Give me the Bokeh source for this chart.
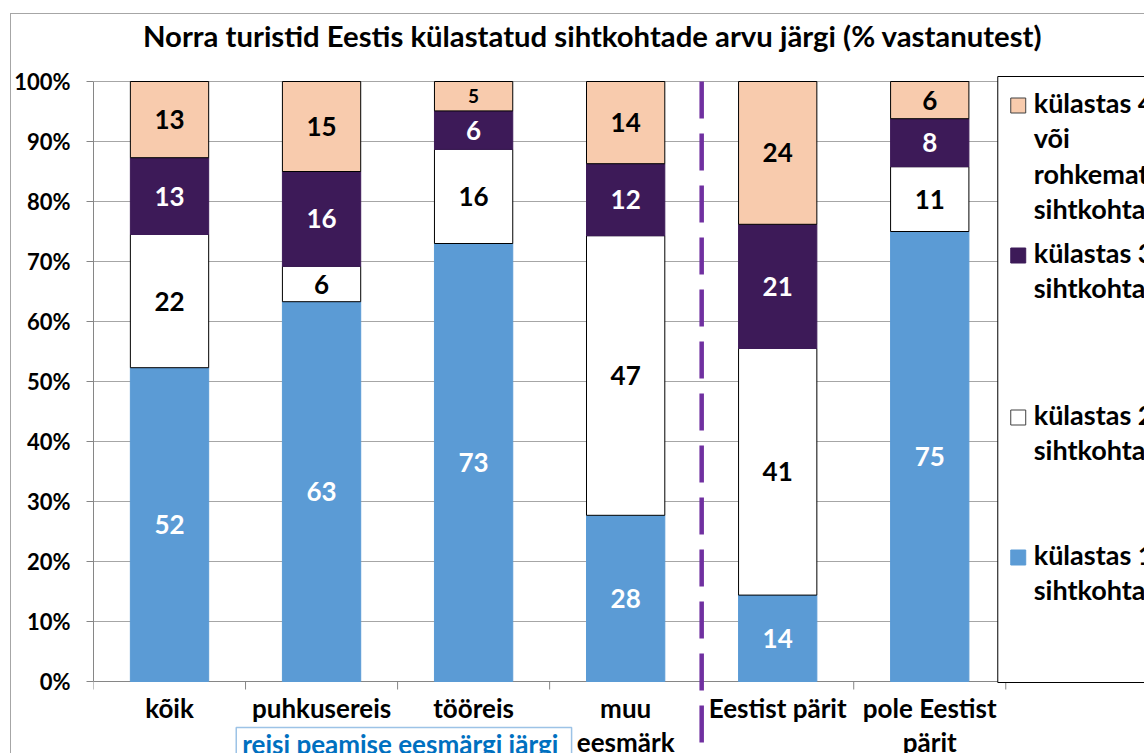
from bokeh.plotting import figure
from bokeh.models import Range1d, FixedTicker, ColumnDataSource, CustomJSTickFormatter
from bokeh.embed import file_html
from bokeh.resources import INLINE
from bokeh.core.properties import value, field

title_text = "Norra turistid Eestis külastatud sihtkohtade arvu järgi (% vastanutest)"
categories = ["kõik", "puhkusereis", "tööreis", "muu\neesmärk", "Eestist pärit", "pole Eestist\npärit"]
series_names = ["külastas 1\nsihtkohta", "külastas 2\nsihtkohta", "külastas 3\nsihtkohta",
                "külastas 4\nvõi\nrohkemat\nsihtkohta"]
visited_1 = [52.3, 63.3, 73.0, 27.7, 14.4, 75.0]
visited_2 = [22.2, 5.9, 15.7, 46.6, 41.1, 10.8]
visited_3 = [12.8, 15.8, 6.4, 12.0, 20.7, 8.0]
visited_4 = [12.7, 15.0, 4.9, 13.7, 23.8, 6.2]
y_ticks = [0, 10, 20, 30, 40, 50, 60, 70, 80, 90, 100]
group_note = "reisi peamise eesmärgi järgi"
divider_after = 4  # divider between the purpose groups and the origin groups

fill_colors = ["#5B9BD5", "#FFFFFF", "#3D1A58", "#F8CBAD"]
line_colors = ["#5B9BD5", "#000000", "#3D1A58", "#000000"]
label_colors = ["#FFFFFF", "#000000", "#FFFFFF", "#000000"]
FONT = "Lato"
AXIS_GREY = "#868686"

# canvas sits at (11, 14) of the page, inside a thin grey chart border
W, H = 1134, 740
n = len(categories)
PX_X = 914 / n          # pixels per category
PX_Y = 6.0              # pixels per percent
x_end = (1145 - 91) / PX_X
y_start, y_end = -(754 - 681) / PX_Y, (681 - 14) / PX_Y

p = figure(width=W, height=H, x_range=Range1d(0, x_end), y_range=Range1d(y_start, y_end),
           output_backend="svg", toolbar_location=None, x_axis_location=None,
           min_border_left=80, min_border_right=0, min_border_top=0, min_border_bottom=0,
           styles={"margin-left": "10px", "margin-top": "13px",
                   "border-left": "1px solid #A6A6A6", "border-top": "1px solid #A6A6A6"})
p.outline_line_color = None
p.xgrid.visible = False

# y axis
p.yaxis.bounds = (0, 100)
p.yaxis.ticker = FixedTicker(ticks=y_ticks)
p.yaxis.formatter = CustomJSTickFormatter(code="return tick + '%'")
p.yaxis.major_tick_out = 7
p.yaxis.major_tick_in = 0
p.yaxis.minor_tick_line_color = None
p.yaxis.axis_line_color = AXIS_GREY
p.yaxis.major_tick_line_color = AXIS_GREY
p.yaxis.major_label_text_font = FONT
p.yaxis.major_label_text_font_style = "bold"
p.yaxis.major_label_text_font_size = "22px"
p.yaxis.major_label_text_color = "#000000"
p.yaxis.major_label_standoff = 16
p.ygrid.ticker = FixedTicker(ticks=y_ticks[1:])
p.ygrid.grid_line_color = "#A6A6A6"

xs = [i + 0.5 for i in range(n)]
bounds_x = list(range(n + 1))

# category axis line and boundary ticks
p.segment(x0=[0], y0=[0], x1=[n], y1=[0], line_color=AXIS_GREY, line_width=1)
p.segment(x0=bounds_x, y0=[0] * (n + 1), x1=bounds_x, y1=[-8 / PX_Y] * (n + 1),
          line_color=AXIS_GREY, line_width=1)

# stacked bars
stacks = [visited_1, visited_2, visited_3, visited_4]
keys = ["s1", "s2", "s3", "s4"]
src = ColumnDataSource(dict(x=xs, s1=visited_1, s2=visited_2, s3=visited_3, s4=visited_4))
p.vbar_stack(keys, x="x", width=0.515, source=src, fill_color=fill_colors,
             line_color=line_colors, line_width=1)

# value labels
bottoms = [0.0] * n
for k, vals in enumerate(stacks):
    mids, txt, sizes = [], [], []
    for i, v in enumerate(vals):
        mids.append(bottoms[i] + v / 2)
        txt.append("%d" % round(v))
        sizes.append("19px" if v < 5.5 else "26px")
        bottoms[i] += v
    ls = ColumnDataSource(dict(x=xs, y=mids, t=txt, size=sizes))
    p.text(x="x", y="y", text="t", source=ls, text_align="center", text_baseline="middle",
           text_font=value(FONT), text_font_style="bold", text_font_size=field("size"),
           text_color=label_colors[k])

# divider between the two groups
p.segment(x0=[divider_after], y0=[100], x1=[divider_after], y1=[y_start],
          line_color="#7030A0", line_width=4.5, line_dash="37 15")

# title
p.text(x=[(591 - 91) / PX_X], y=[(681 - 35) / PX_Y], text=[title_text], text_align="center",
       text_baseline="middle", text_font=value(FONT), text_font_style="bold",
       text_font_size="29.3px", text_color="#000000")

# category labels
p.text(x=xs, y=[-1.75] * n, text=categories, text_align="center", text_baseline="top",
       text_font=value(FONT), text_font_style="bold", text_font_size="26px",
       text_line_height=1.05, text_color="#000000")

# group note box
p.quad(left=[(234 - 91) / PX_X], right=[(570 - 91) / PX_X], top=[(681 - 727) / PX_Y],
       bottom=[y_start - 5], fill_color=None, line_color="#9DC3E6", line_width=1.5)
p.text(x=[(240 - 91) / PX_X], y=[(681 - 743) / PX_Y], text=[group_note], text_align="left",
       text_baseline="middle", text_font=value(FONT), text_font_style="bold",
       text_font_size="26px", text_color="#0070C0")

# legend
p.quad(left=[(997 - 91) / PX_X], right=[x_end + 1], top=[(681 - 76) / PX_Y],
       bottom=[(681 - 682) / PX_Y], fill_color="#FFFFFF", line_color="#000000", line_width=1)
legend_centers = [557, 417, 255, 105]
sq_l, sq_r = (1010 - 91) / PX_X, (1025 - 91) / PX_X
for k in range(4):
    yc = (681 - legend_centers[k]) / PX_Y
    p.quad(left=[sq_l], right=[sq_r], top=[yc + 7.5 / PX_Y], bottom=[yc - 7.5 / PX_Y],
           fill_color=fill_colors[k],
           line_color="#404040" if k in (1, 3) else fill_colors[k], line_width=1)
    p.text(x=[(1033 - 91) / PX_X], y=[yc + 20 / PX_Y], text=[series_names[k]],
           text_align="left", text_baseline="top", text_font=value(FONT),
           text_font_style="bold", text_font_size="27px", text_line_height=1.08,
           text_color="#000000")

open("out.html", "w").write(file_html(p, INLINE))
